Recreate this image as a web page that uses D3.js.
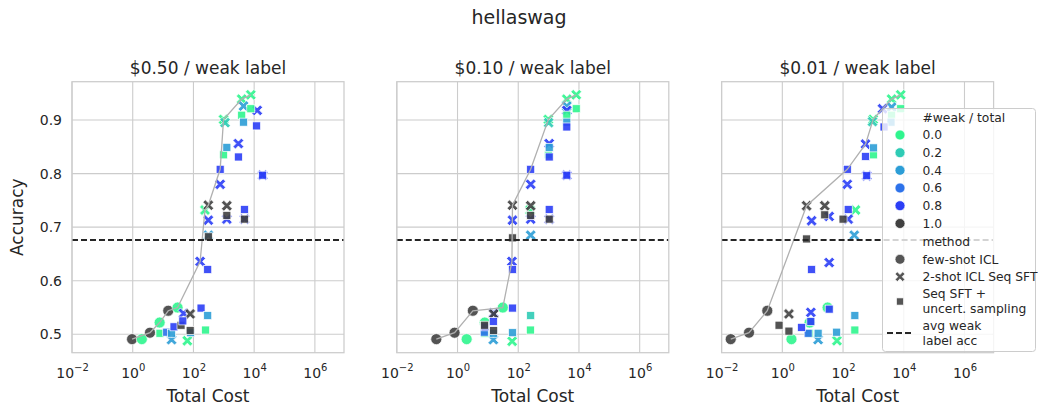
<!DOCTYPE html>
<html><head><meta charset="utf-8">
<script src="https://cdn.jsdelivr.net/npm/d3@7"></script>
<style>body{margin:0;background:#fff}svg{font-family:"DejaVu Sans",sans-serif}</style>
</head><body><svg id="c" width="1038" height="411"></svg>
<script>
// ---------------- data ----------------
const suptitle = "hellaswag";
const panelTitles = ["$0.50 / weak label", "$0.10 / weak label", "$0.01 / weak label"];
const weakLevels = [0, 0.2, 0.4, 0.6, 0.8, 1.0];
const weakLabels = ["0.0", "0.2", "0.4", "0.6", "0.8", "1.0"];
const weakColors = ["#2ff58e", "#2fcbb5", "#2c9dd6", "#2d72ea", "#2b3ef6", "#404040"];
const methodNames = ["few-shot ICL", "2-shot ICL Seq SFT", "Seq SFT +|uncert. sampling"];
const xTicks = [1e-2, 1, 1e2, 1e4, 1e6];
const xTickExp = ["−2", "0", "2", "4", "6"];
const yTicks = [0.5, 0.6, 0.7, 0.8, 0.9];
const avgWeakAcc = 0.676;
// [total cost, accuracy, #weak/total, method index]
const pts050 = [
  [0.95,.491,1,0],[2,.491,0,0],[3.7,.503,1,0],[7.7,.522,0,0],[14.8,.544,1,0],[30,.550,0,0],
  [63,.488,0,1],[19,.490,0.4,1],[47,.539,0.8,1],[78,.538,1,1],[166,.636,0.8,1],[309,.685,0.4,1],
  [240,.732,0,1],[309,.741,1,1],[309,.713,0.8,1],[1259,.715,0.8,1],[1259,.740,1,1],[4786,.715,0.8,1],
  [759,.780,0.8,1],[3020,.856,0.8,1],[19050,.797,0.8,1],[980,.901,0,1],[1096,.895,0.2,1],
  [3890,.939,0,1],[7760,.947,0,1],[12590,.918,0.8,1],[4467,.926,0.4,1],
  [7.9,.502,0,2],[13.2,.504,0.6,2],[19,.502,0.4,2],[22.9,.514,0.8,2],[39,.517,1,2],[44.7,.525,0.8,2],
  [80,.503,0.4,2],[78,.507,1,2],[178,.549,0.8,2],[295,.535,0.4,2],[251,.508,0,2],[295,.621,0.8,2],
  [309,.682,1,2],[1259,.722,1,2],[4786,.733,0.8,2],[4786,.715,1,2],[759,.808,0.8,2],[980,.835,0,2],
  [1259,.849,0.4,2],[3020,.831,0.8,2],[19050,.797,0.8,2],[3890,.909,0,2],[4467,.896,0.4,2],
  [7760,.921,0,2],[12000,.889,0.8,2]
];
const pts010 = [
  [0.2,.491,1,0],[2,.491,0,0],[0.8,.503,1,0],[7.9,.522,0,0],[3.2,.544,1,0],[31,.550,0,0],
  [63,.487,0,1],[15.1,.490,0.4,1],[15.5,.540,0.8,1],[15.5,.538,1,1],[62,.636,0.8,1],[257,.685,0.4,1],
  [245,.732,0,1],[64.6,.741,1,1],[64.6,.713,0.8,1],[257,.715,0.8,1],[257,.740,1,1],[257,.780,0.8,1],
  [1047,.715,0.8,1],[1047,.856,0.8,1],[3980,.797,0.8,1],[980,.901,0,1],[1000,.895,0.2,1],
  [3980,.939,0,1],[8130,.947,0,1],[3980,.926,0.4,1],[3980,.918,0.8,1],
  [7.9,.502,0,2],[7.6,.504,0.6,2],[15.1,.502,0.4,2],[8,.514,0.8,2],[7.8,.517,1,2],[15.1,.524,0.8,2],
  [15.5,.507,1,2],[64.6,.549,0.8,2],[64.6,.503,0.4,2],[257,.535,0.2,2],[251,.508,0,2],[64.6,.621,0.8,2],
  [64.6,.680,1,2],[257,.722,1,2],[1047,.733,0.8,2],[1047,.715,1,2],[257,.808,0.8,2],[980,.835,0,2],
  [1047,.849,0.4,2],[1047,.831,0.8,2],[3980,.797,0.8,2],[3980,.909,0,2],[3980,.896,0.4,2],
  [8130,.921,0,2],[3980,.887,0.8,2]
];
const pts001 = [
  [0.02,.491,1,0],[2,.491,0,0],[0.08,.503,1,0],[7.9,.522,0,0],[0.32,.544,1,0],[31,.550,0,0],
  [63,.488,0,1],[15.1,.490,0.4,1],[8.7,.541,0.8,1],[1.65,.538,1,1],[35,.634,0.8,1],[234,.685,0.4,1],
  [257,.732,0,1],[6.3,.740,1,1],[9.2,.712,0.8,1],[25,.740,1,1],[35,.720,0.8,1],[148,.715,0.8,1],
  [138,.780,0.8,1],[550,.855,0.8,1],[603,.796,0.8,1],[980,.901,0,1],[933,.897,0.2,1],
  [3980,.939,0,1],[7940,.947,0,1],[3980,.924,0.4,1],[1995,.921,0.8,1],
  [7.9,.502,0,2],[7.1,.502,0.6,2],[15.1,.502,0.4,2],[4.3,.513,0.8,2],[0.78,.517,1,2],[8.7,.524,0.8,2],
  [1.65,.506,1,2],[61.7,.504,0.4,2],[35,.547,0.8,2],[245,.535,0.4,2],[245,.508,0,2],[9.2,.621,0.8,2],
  [6.3,.678,1,2],[25,.723,1,2],[148,.733,0.8,2],[100,.715,1,2],[138,.808,0.8,2],[1000,.835,0,2],
  [1000,.848,0.4,2],[550,.832,0.8,2],[603,.796,0.8,2],[3980,.909,0,2],[3800,.896,0.4,2],
  [7940,.921,0,2],[2239,.887,0.8,2]
];
const panelData = [pts050, pts010, pts001];

// ---------------- drawing ----------------
const svg = d3.select("#c");
const panelLeft = [72, 396.8, 721.6], panelW = 272, plotTop = 81.7, plotBottom = 352.7;
const textColor = "#262626";
const colorOf = f => weakColors[weakLevels.indexOf(f)];
const xPath = (h, e) => `M0,${-e}L${h-e},${-h}L${h},${-h+e}L${e},0L${h},${h-e}L${h-e},${h}L0,${e}L${-h+e},${h}L${-h},${h-e}L${-e},0L${-h},${-h+e}L${-h+e},${-h}Z`;
function marker(g, m, cx, cy, fill, scale = 1) {
  let el;
  if (m === 0) el = g.append("circle").attr("cx", cx).attr("cy", cy).attr("r", 5.5 * scale);
  else if (m === 1) el = g.append("path").attr("d", xPath(5.4 * scale, 2.4 * scale)).attr("transform", `translate(${cx},${cy})`);
  else { const s = 4.0 * scale; el = g.append("rect").attr("x", cx - s).attr("y", cy - s).attr("width", 2 * s).attr("height", 2 * s); }
  el.attr("fill", fill).attr("stroke", "#fff").attr("stroke-width", 0.7);
  return el;
}

svg.append("text").attr("x", 519).attr("y", 24).attr("text-anchor", "middle")
  .attr("font-size", 19).attr("fill", textColor).text(suptitle);

panelData.forEach((pts, i) => {
  const L = panelLeft[i];
  const x = d3.scaleLog().domain([1e-2, 9.1e6]).range([L, L + panelW]);
  const y = d3.scaleLinear().domain([0.4657, 0.9715]).range([plotBottom, plotTop]);
  const g = svg.append("g");
  // grid
  g.selectAll(".vg").data(xTicks).join("line").attr("x1", d => x(d)).attr("x2", d => x(d))
    .attr("y1", plotTop).attr("y2", plotBottom).attr("stroke", "#cccccc").attr("stroke-width", 1.1);
  g.selectAll(".hg").data(yTicks).join("line").attr("y1", d => y(d)).attr("y2", d => y(d))
    .attr("x1", L).attr("x2", L + panelW).attr("stroke", "#cccccc").attr("stroke-width", 1.1);
  // x axis labels
  const xa = g.append("g").attr("transform", `translate(0,${plotBottom})`)
    .call(d3.axisBottom(x).tickValues(xTicks).tickSize(0).tickPadding(15).tickFormat(() => ""));
  xa.select(".domain").remove();
  xa.selectAll(".tick text").each(function(d, k) {
    const t = d3.select(this).attr("font-size", 14).attr("fill", textColor).attr("font-family", "DejaVu Sans");
    t.append("tspan").text("10");
    t.append("tspan").attr("dy", -6.5).attr("font-size", 10).text(xTickExp[k]);
  });
  if (i === 0) {
    const ya = g.append("g").attr("transform", `translate(${L},0)`)
      .call(d3.axisLeft(y).tickValues(yTicks).tickSize(0).tickPadding(10).tickFormat(d3.format(".1f")));
    ya.select(".domain").remove();
    ya.selectAll(".tick text").attr("font-size", 14).attr("fill", textColor).attr("font-family", "DejaVu Sans");
    svg.append("text").attr("transform", `translate(23,${(plotTop + plotBottom) / 2}) rotate(-90)`)
      .attr("text-anchor", "middle").attr("font-size", 17).attr("fill", textColor).text("Accuracy");
  }
  svg.append("text").attr("x", L + panelW / 2).attr("y", 402).attr("text-anchor", "middle")
    .attr("font-size", 17).attr("fill", textColor).text("Total Cost");
  svg.append("text").attr("x", L + panelW / 2).attr("y", 74).attr("text-anchor", "middle")
    .attr("font-size", 17).attr("fill", textColor).text(panelTitles[i]);
  // points
  const pg = g.append("g");
  [0, 1, 2].forEach(m => pts.filter(p => p[3] === m).forEach(p =>
    marker(pg, m, x(p[0]), y(p[1]), colorOf(p[2])).attr("fill-opacity", 0.9)));
  // frontier (Pareto)
  const sorted = pts.slice().sort((a, b) => a[0] - b[0] || b[1] - a[1]);
  const front = []; let best = -1;
  sorted.forEach(p => { if (p[1] > best) { front.push(p); best = p[1]; } });
  g.append("path").datum(front).attr("fill", "none").attr("stroke", "#b0b0b0").attr("stroke-width", 1.3)
    .attr("d", d3.line().x(d => x(d[0])).y(d => y(d[1])));
  // avg weak label acc
  g.append("line").attr("x1", L).attr("x2", L + panelW).attr("y1", y(avgWeakAcc)).attr("y2", y(avgWeakAcc))
    .attr("stroke", textColor).attr("stroke-width", 1.8).attr("stroke-dasharray", "6,3");
  // frame
  g.append("rect").attr("x", L).attr("y", plotTop).attr("width", panelW).attr("height", plotBottom - plotTop)
    .attr("fill", "none").attr("stroke", "#cccccc").attr("stroke-width", 1.25);
});

// ---------------- legend ----------------
const lg = svg.append("g");
lg.append("rect").attr("x", 882.5).attr("y", 108.5).attr("width", 153).attr("height", 243).attr("rx", 3)
  .attr("fill", "#fff").attr("fill-opacity", 0.8).attr("stroke", "#cccccc").attr("stroke-width", 1);
const tx = 922.5, mx = 900, fs = 12.3;
const addText = (yy, s) => lg.append("text").attr("x", tx).attr("y", yy).attr("font-size", fs).attr("fill", textColor).text(s);
addText(121.8, "#weak / total");
const rowY = [135, 152.7, 170.3, 188, 205.7, 223.5];
weakLabels.forEach((lab, k) => {
  lg.append("circle").attr("cx", mx).attr("cy", rowY[k]).attr("r", 5).attr("fill", weakColors[k]).attr("stroke", "#fff").attr("stroke-width", 0.7);
  addText(rowY[k] + 4.4, lab);
});
addText(245.8, "method");
const mY = [259.3, 276.7, 301.5];
methodNames.forEach((nm, k) => {
  marker(lg, k, mx, mY[k], "#555555", 0.9);
  const parts = nm.split("|");
  if (parts.length === 1) addText(mY[k] + 4.4, parts[0]);
  else { addText(298.3, parts[0]); addText(312.8, parts[1]); }
});
lg.append("line").attr("x1", 887).attr("x2", 912).attr("y1", 333).attr("y2", 333)
  .attr("stroke", textColor).attr("stroke-width", 1.8).attr("stroke-dasharray", "6,3");
addText(330.3, "avg weak");
addText(344.5, "label acc");
</script></body></html>
